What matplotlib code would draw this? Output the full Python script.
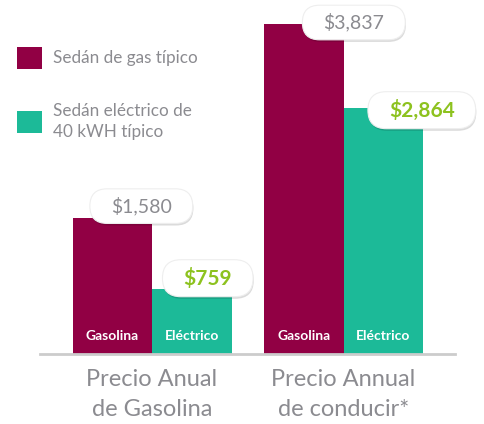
import matplotlib

matplotlib.use("Agg")
import matplotlib.pyplot as plt
import matplotlib.patheffects as pe
from matplotlib.patches import BoxStyle, Patch
import numpy as np

# data
groups = ["Precio Anual\nde Gasolina", "Precio Annual\nde conducir*"]
series_names = ["Sedán de gas típico", "Sedán eléctrico de\n40 kWH típico"]
bar_tags = ["Gasolina", "Eléctrico"]
gas_values = [1580, 3837]
elec_values = [759, 2864]

# styling
GAS_COLOR = "#910044"
ELEC_COLOR = "#1cba98"
GREEN_TEXT = "#8dc21f"
GRAY_TEXT = "#8b8b90"
AXIS_COLOR = "#cccccc"
FONT = "Lato"

# pill offsets (pixels) from bar top-centre: gas then electric, per group
GAS_OFFSETS = [(29, 12), (50, 1.5)]
ELEC_OFFSETS = [(16, 10.5), (38.5, -2.5)]


def pill(x0, y0, width, height, mutation_size):
    """Rounded 'pill' box with wider horizontal padding."""
    px, py = 21.0, 8.0
    h = height + 2 * py
    r = (h / 2.0) / mutation_size
    return BoxStyle.Round(pad=0, rounding_size=r)(
        x0 - px, y0 - py, width + 2 * px, h, mutation_size
    )


def value_label(ax, x, y, text, color, weight, size, offset):
    t = ax.annotate(
        text, xy=(x, y), xytext=offset, textcoords="offset pixels",
        ha="center", va="center", color=color, fontsize=size,
        fontweight=weight, family=FONT, zorder=5,
        bbox=dict(boxstyle=pill, facecolor="white", edgecolor="#eeeeee",
                  linewidth=0.8),
    )
    t.get_bbox_patch().set_path_effects([
        pe.SimplePatchShadow(offset=(0.5, -1.5), shadow_rgbFace="#000000", alpha=0.14),
        pe.Normal(),
    ])


fig = plt.figure(figsize=(4.84, 4.24), dpi=100)
ax = fig.add_axes([40 / 484, 70 / 424, 415 / 484, 344 / 424])

x = np.arange(len(groups))
width = 0.415
gas_x = x - width / 2
elec_x = x + width / 2

ax.bar(gas_x, gas_values, width, color=GAS_COLOR, zorder=2)
ax.bar(elec_x, elec_values, width, color=ELEC_COLOR, zorder=2)

ax.set_xlim(-0.585, 1.582)
ax.set_ylim(0, 4000)

for i in range(len(groups)):
    for bx, tag in ((gas_x[i], bar_tags[0]), (elec_x[i], bar_tags[1])):
        ax.annotate(tag, xy=(bx, 0), xytext=(0, 18), textcoords="offset pixels",
                    ha="center", va="center", color="white", fontsize=10,
                    fontweight="bold", family=FONT, zorder=3)
    value_label(ax, gas_x[i], gas_values[i], f"${gas_values[i]:,}", GRAY_TEXT,
                "normal", 14, GAS_OFFSETS[i])
    value_label(ax, elec_x[i], elec_values[i], f"${elec_values[i]:,}", GREEN_TEXT,
                "bold", 15, ELEC_OFFSETS[i])

for side in ("top", "right", "left"):
    ax.spines[side].set_visible(False)
ax.spines["bottom"].set_color(AXIS_COLOR)
ax.spines["bottom"].set_linewidth(2)
ax.set_yticks([])
ax.set_xticks(x)
ax.set_xticklabels(groups, fontsize=17, color=GRAY_TEXT, family=FONT,
                   linespacing=1.5)
ax.tick_params(axis="x", length=0, pad=11)

handles = [Patch(facecolor=GAS_COLOR), Patch(facecolor=ELEC_COLOR)]
leg = fig.legend(handles, series_names, loc="upper left",
                 bbox_to_anchor=(10 / 484, 1 - 40 / 424), frameon=False,
                 prop=dict(family=FONT, size=12.3), labelcolor=GRAY_TEXT,
                 handlelength=1.5, handleheight=1.6, handletextpad=0.62,
                 labelspacing=2.0, borderaxespad=0)
for txt in leg.get_texts():
    txt.set_linespacing(1.4)
# centre each square on its (possibly two-line) label
for column in leg._legend_handle_box.get_children():
    for item in column.get_children():
        item.align = "center"

fig.savefig("out.png", dpi=100)
